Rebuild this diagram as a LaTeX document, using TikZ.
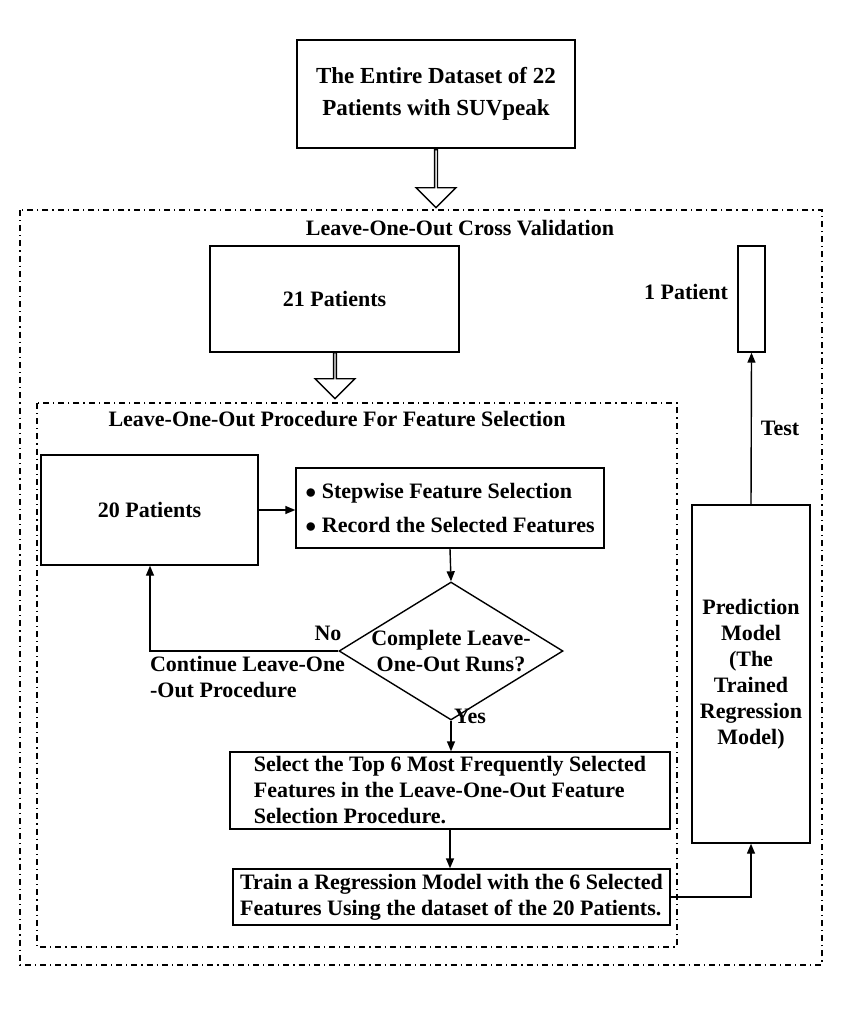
\documentclass[tikz,border=0pt]{standalone}
\usepackage{fontspec}
\setmainfont{Liberation Serif}
\usetikzlibrary{arrows.meta,shapes.geometric,shapes.arrows,positioning}
\tikzset{
  txt/.style={font=\fontsize{11}{13}\selectfont\bfseries},
  box/.style={draw, line width=0.7pt, txt, align=center, inner sep=1pt},
  frame/.style={draw, line width=0.6pt, dash dot},
  arr/.style={-{Triangle[length=5pt,width=4pt]}, line width=0.7pt},
  hollow/.style={draw, single arrow, single arrow head extend=4.5pt, shape border rotate=270, minimum width=20pt, inner sep=0pt, fill=white, line width=0.7pt},
  lbl/.style={txt, align=left}
}
\begin{document}
\begin{tikzpicture}[x=0.5pt,y=-0.5pt]
\useasboundingbox (0,0) rectangle (840,1011);
\fill[white] (0,0) rectangle (840,1011);
% frames
\draw[frame] (20,210) rectangle (822,965);
\draw[frame] (37,403) rectangle (677,947);
\node[lbl] (cvtitle) at (460,228) {Leave-One-Out Cross Validation};
\node[lbl] (fstitle) at (337,419) {Leave-One-Out Procedure For Feature Selection};
% boxes
\node[box, minimum width=139pt, minimum height=54pt, font=\fontsize{11.5}{16}\selectfont\bfseries] (all) at (436,94) {The Entire Dataset of 22\\Patients with SUVpeak};
\node[box, minimum width=124.5pt, minimum height=53pt] (p21) at (334.5,299) {21 Patients};
\node[box, minimum width=108.5pt, minimum height=55pt] (p20) at (149.5,510) {20 Patients};
\node[box, minimum width=154pt, minimum height=40pt, align=left] (steps) at (450,508) {$\bullet$ Stepwise Feature Selection\\[4pt]$\bullet$ Record the Selected Features};
\node[draw, line width=0.7pt, diamond, minimum width=112pt, minimum height=69pt, inner sep=0pt] (done) at (451,651) {};
\node[lbl, align=center] (donetxt) at (done.center) {Complete Leave-\\One-Out Runs?};
\node[box, minimum width=220pt, minimum height=38.5pt, align=left] (top6) at (450,790.5) {Select the Top 6 Most Frequently Selected\\Features in the Leave-One-Out Feature\\Selection Procedure.\hspace*{6.5em}};
\node[box, minimum width=218.5pt, minimum height=28pt, align=left] (train) at (451.5,897) {Train a Regression Model with the 6 Selected\\Features Using the dataset of the 20 Patients.};
\node[box, minimum width=59pt, minimum height=169pt] (model) at (751,674) {Prediction\\Model\\(The\\Trained\\Regression\\Model)};
\node[box, minimum width=13.5pt, minimum height=53pt, inner sep=0pt] (p1) at (751.5,299) {};
\node[lbl] (p1lbl) at (686,292) {1 Patient};
% hollow arrows
\node[hollow, minimum height=29pt] (h1) at (436,178) {};
\node[hollow, minimum height=23pt] (h2) at (335,375) {};
% connectors
\draw[arr] (p20.east) -- (steps.west |- p20.east);
\draw[arr] (steps.south) -- (done.north);
\draw[arr] (done.west) -- (150,651) -- (p20.south -| 150,0);
\node[lbl] (no) at (328,633) {No};
\node[lbl, anchor=west] (cont) at (143,677) {Continue Leave-One\\-Out Procedure};
\draw[arr] (done.south) -- (top6.north -| done.south);
\node[lbl] (yes) at (470,716) {Yes};
\draw[arr] (top6.south) -- (train.north -| top6.south);
\draw[arr] (train.east) -- (751,897) -- (model.south);
\draw[arr] (model.north) -- (p1.south);
\node[lbl] (test) at (780,428) {Test};
\end{tikzpicture}
\end{document}
